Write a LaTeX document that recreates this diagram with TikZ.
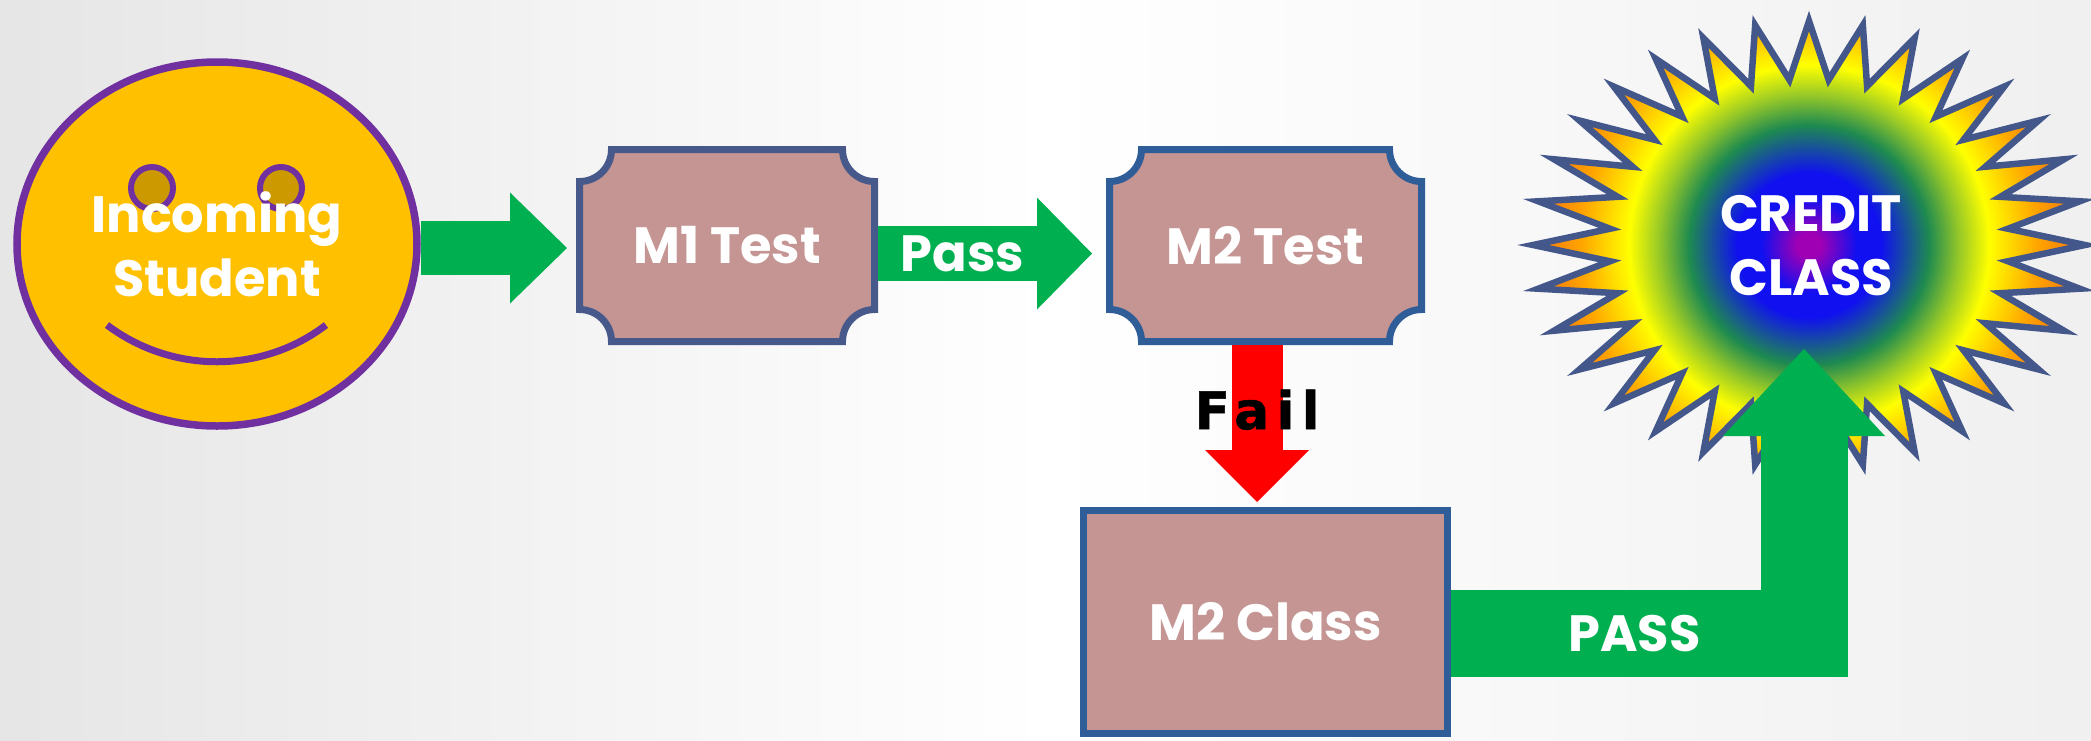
\documentclass[tikz,border=0pt]{standalone}
\usepackage{fontspec}
\usepackage{tikz}
\usetikzlibrary{shapes.geometric,arrows.meta,calc}

\newfontfamily\gothic{Poppins}
\newfontfamily\failfont{DejaVu Sans}[LetterSpace=14, BoldFeatures={FakeBold=1}]
\newcommand{\boxfont}{\gothic\bfseries\fontsize{51}{64}\selectfont}

\definecolor{facegold}{HTML}{FFC000}
\definecolor{faceline}{HTML}{7030A0}
\definecolor{eyegold}{HTML}{CC9900}
\definecolor{boxrose}{HTML}{C49592}
\definecolor{boxline}{HTML}{46598A}
\definecolor{boxlineb}{HTML}{2F5D98}
\definecolor{flowgreen}{HTML}{00B050}
\definecolor{failred}{HTML}{FF0000}
\definecolor{starrim}{HTML}{44578A}
\definecolor{glowcore}{HTML}{A000B4}
\definecolor{glowblue}{HTML}{1010F0}
\definecolor{glowgreen}{HTML}{1E8A50}
\definecolor{glowlime}{HTML}{96C828}
\definecolor{glowyellow}{HTML}{FFFF00}
\definecolor{gloworange}{HTML}{FFA500}
\definecolor{glowtip}{HTML}{F05A14}

\pgfdeclareradialshading{starglow}{\pgfpoint{0bp}{0bp}}{color(0bp)=(glowcore); color(1bp)=(glowcore); color(4bp)=(glowblue); color(6bp)=(glowblue); color(10bp)=(glowgreen); color(12.5bp)=(glowlime); color(15bp)=(glowyellow); color(19bp)=(gloworange); color(24.5bp)=(glowtip); color(50bp)=(glowtip)}

\begin{document}
\begin{tikzpicture}[x=1pt, y=-1pt,
    face/.style={ellipse, fill=facegold, draw=faceline, line width=7.5pt,
        minimum width=400pt, minimum height=364pt, inner sep=0pt},
    eye/.style={draw=faceline, line width=6pt, fill=eyegold},
    smile/.style={draw=faceline, line width=7pt},
    plaque/.style 2 args={minimum width=#1, minimum height=199pt,
        inner sep=0pt, outer sep=0pt, text=white, font=\boxfont,
        path picture={
            \filldraw[fill=boxrose, draw=#2, line width=7pt]
                let \p1=([shift={(3.5pt,3.5pt)}]path picture bounding box.south west),
                    \p2=([shift={(-3.5pt,-3.5pt)}]path picture bounding box.north east),
                    \n1={32pt}, \n2={0.5523*32pt} in
                (\x1+\n1,\y1) .. controls (\x1+\n1,\y1+\n2) and (\x1+\n2,\y1+\n1) .. (\x1,\y1+\n1)
                -- (\x1,\y2-\n1) .. controls (\x1+\n2,\y2-\n1) and (\x1+\n1,\y2-\n2) .. (\x1+\n1,\y2)
                -- (\x2-\n1,\y2) .. controls (\x2-\n1,\y2-\n2) and (\x2-\n2,\y2-\n1) .. (\x2,\y2-\n1)
                -- (\x2,\y1+\n1) .. controls (\x2-\n2,\y1+\n1) and (\x2-\n1,\y1+\n2) .. (\x2-\n1,\y1)
                -- cycle;
        }},
    classbox/.style={rectangle, fill=boxrose, draw=boxlineb, line width=7pt,
        minimum width=364pt, minimum height=223pt, text=white, font=\boxfont},
    labeltext/.style={text=white, font=\boxfont, inner sep=0pt},
    failtext/.style={text=black, font=\failfont\bfseries\fontsize{52}{60}\selectfont, inner sep=0pt},
    blockarrow/.style n args={3}{line width=#1,
        -{Triangle[length=#2, width=#3, line width=0pt]}},
    starrimline/.style={draw=starrim, line width=6.5pt}]

    \useasboundingbox (0,0) rectangle (2091,740);
    % Background
    \shade[left color=black!10, right color=black!6, middle color=white] (0,0) rectangle (2091,740);

    % Incoming student
    \node[face] (face) at (217,244) {};
    \draw[eye] ([shift={(-65,-56)}]face.center) circle (21);
    \draw[eye] ([shift={(64,-56)}]face.center) circle (21);
    \draw[smile] ([shift={(-110,81)}]face.center)
        .. controls ([shift={(-45,130)}]face.center) and ([shift={(45,130)}]face.center)
        .. ([shift={(109,81)}]face.center);
    \node[labeltext, align=center] (incoming) at (face.center) {Incoming\\Student};

    % Tests
    \node[plaque={302pt}{boxline}] (m1) at (727,245.5) {M1 Test};
    \node[plaque={319pt}{boxlineb}] (m2) at (1265.5,245.5) {M2 Test};

    % Class
    \node[classbox] (m2c) at (1265.5,622) {M2 Class};

    % Credit star
    \coordinate (starc) at (1809,245);
    \begin{scope}[shift={(starc)}]
        \begin{scope}
            \clip (90:224 and 224) \foreach \k in {0,...,30} {
                -- ({95.625+11.25*\k}:200 and 166) -- ({101.25+11.25*\k}:276 and 224)}
                -- (84.375:200 and 166) -- cycle;
            \shade[shading=starglow] (0,0) circle (300);
        \end{scope}
        \draw[starrimline] (90:224 and 224) \foreach \k in {0,...,30} {
            -- ({95.625+11.25*\k}:200 and 166) -- ({101.25+11.25*\k}:276 and 224)}
            -- (84.375:200 and 166) -- cycle;
    \end{scope}
    \node[labeltext, align=center] (credit) at (1811,246) {CREDIT\\CLASS};
    \coordinate (passtip) at (1804,349);

    % Arrows
    \draw[blockarrow={54pt}{57pt}{111pt}, flowgreen, shorten >=9pt]
        ([yshift=-4pt]face.east) -- ([yshift=-2.5pt]m1.west);
    \draw[blockarrow={55pt}{55pt}{112pt}, flowgreen, shorten >=14pt]
        ([yshift=-8pt]m1.east) -- ([yshift=-8pt]m2.west) node[pos=0.37, labeltext] {Pass};
    \draw[blockarrow={51pt}{52pt}{104pt}, failred, shorten >=5pt]
        ([xshift=-8.5pt]m2.south) -- ([xshift=-8.5pt]m2c.north) node[pos=0.4, failtext] {Fail};
    \draw[blockarrow={87pt}{87pt}{162pt}, flowgreen]
        ([yshift=-11.5pt]m2c.east) -| (passtip) node[pos=0.26, labeltext] {PASS};
\end{tikzpicture}
\end{document}
